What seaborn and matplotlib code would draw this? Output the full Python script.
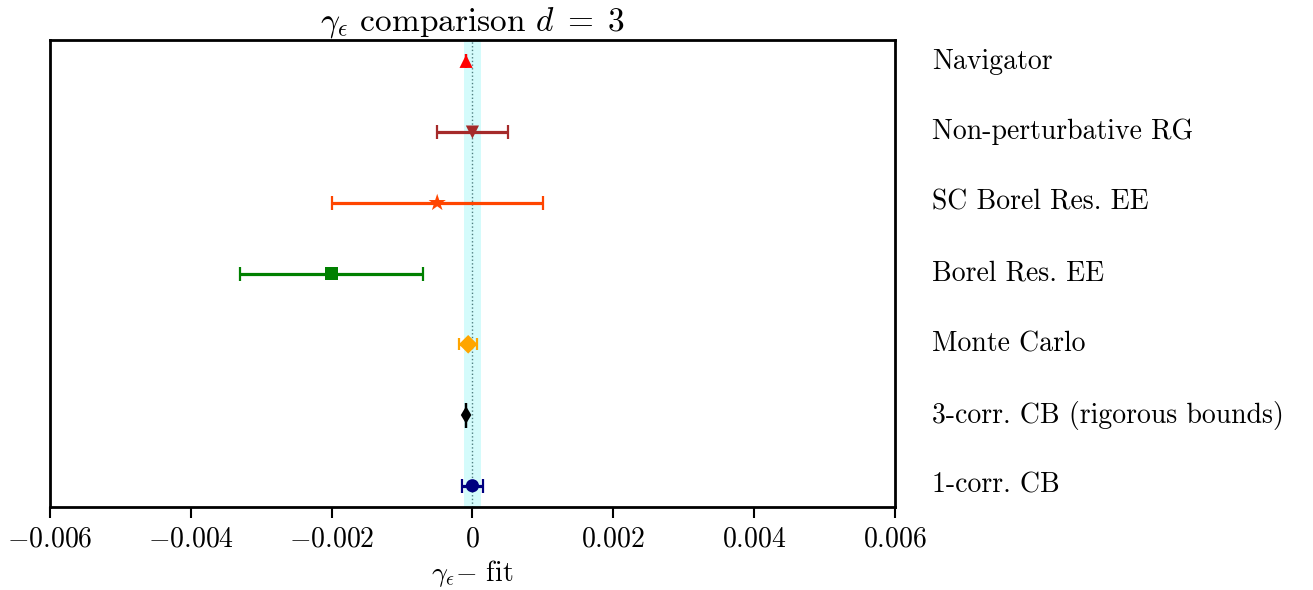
import numpy as np
import pandas as pd
import matplotlib
matplotlib.use("Agg")
import matplotlib.pyplot as plt
import matplotlib.transforms as mtransforms
import seaborn as sns

# Estimates of gamma_epsilon relative to the fit value (d = 3)
methods = ["1-corr. CB", "3-corr. CB (rigorous bounds)", "Monte Carlo",
           "Borel Res. EE", "SC Borel Res. EE", "Non-perturbative RG", "Navigator"]
deltas = [0.0, -0.00009, -0.00006, -0.0020, -0.0005, 0.0, -0.00009]
errors = [0.00015, 0.000005, 0.00013, 0.0013, 0.0015, 0.0005, 0.0]
colors = ["navy", "black", "orange", "green", "orangered", "brown", "red"]
markers = ["o", "d", "D", "s", "*", "v", "^"]
marker_sizes = [90, 80, 90, 90, 170, 90, 90]
cap_sizes = [5, 9, 4, 5, 5, 5, 5]
band_halfwidth = 0.000125
xticks = [-0.006, -0.004, -0.002, 0.0, 0.002, 0.004, 0.006]

df = pd.DataFrame({"method": methods, "delta": deltas, "err": errors,
                   "pos": np.arange(len(methods))})

sns.set_style("ticks")
plt.rcParams["font.family"] = ["cmr10", "DejaVu Serif"]
plt.rcParams["mathtext.fontset"] = "cm"
plt.rcParams["axes.unicode_minus"] = False
plt.rcParams["axes.formatter.use_mathtext"] = True
plt.rcParams["text.color"] = "black"
plt.rcParams["xtick.color"] = "black"
plt.rcParams["ytick.color"] = "black"
plt.rcParams["axes.labelcolor"] = "black"

fig = plt.figure(figsize=(13.13, 5.90), dpi=100)
ax = fig.add_axes([0.038, 0.1407, 0.6436, 0.7913])

ax.axvspan(-band_halfwidth, band_halfwidth, color="#d4fbfb", zorder=0, lw=0)
ax.axvline(0, color="#4f7f80", ls=":", lw=1.0, zorder=1)

for _, r in df.iterrows():
    i = int(r["pos"])
    ax.errorbar(r["delta"], r["pos"], xerr=r["err"], fmt="none",
                ecolor=colors[i], elinewidth=2.3, capsize=cap_sizes[i],
                capthick=1.6, zorder=2)

sns.scatterplot(data=df, x="delta", y="pos", hue="method", style="method",
                size="method", sizes=dict(zip(methods, marker_sizes)),
                palette=dict(zip(methods, colors)),
                markers=dict(zip(methods, markers)),
                edgecolor="none", legend=False, ax=ax, zorder=3)

ax.set_xlim(-0.006, 0.006)
ax.set_ylim(-0.3, 6.3)
ax.set_xticks(xticks)
ax.set_xticklabels([r"$0$" if v == 0 else r"$%.3f$" % v for v in xticks],
                   fontsize=20)
ax.yaxis.tick_right()
ax.set_yticks(df["pos"])
ax.set_yticklabels(methods, fontsize=20)
ax.tick_params(axis="y", length=0, pad=27)
ax.tick_params(axis="x", direction="out", length=8, width=1.5, pad=6)
shift = mtransforms.ScaledTranslation(0, 3 / 100, fig.dpi_scale_trans)
for lbl in ax.get_yticklabels():
    lbl.set_transform(lbl.get_transform() + shift)
for s in ax.spines.values():
    s.set_linewidth(2)
    s.set_color("black")

ax.set_xlabel(r"$\gamma_\epsilon{-}$ fit", fontsize=20, labelpad=4)
ax.set_ylabel("")
ax.set_title(r"$\gamma_\epsilon$ comparison $d\;=\;3$", fontsize=24, pad=4)

fig.savefig("out.png", dpi=100)
